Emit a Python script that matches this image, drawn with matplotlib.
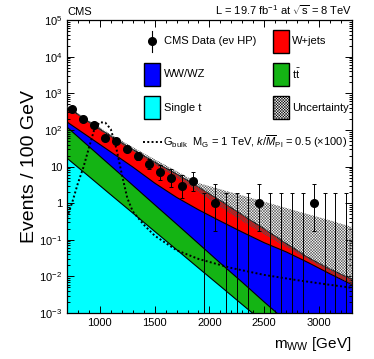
import numpy as np
import matplotlib
matplotlib.use("Agg")
import matplotlib.pyplot as plt
from matplotlib.patches import Rectangle
from matplotlib.lines import Line2D
from matplotlib.ticker import LogLocator, MultipleLocator, NullFormatter

plt.rcParams["font.family"] = ["Liberation Sans", "DejaVu Sans"]
plt.rcParams["mathtext.fontset"] = "custom"
plt.rcParams["mathtext.rm"] = "Liberation Sans"
plt.rcParams["mathtext.it"] = "Liberation Sans:italic"
plt.rcParams["mathtext.bf"] = "Liberation Sans:bold"
plt.rcParams["hatch.linewidth"] = 0.35

# background fit shapes (events / 100 GeV), read at knot masses
M_KNOTS = [700, 900, 1100, 1300, 1500, 1700, 1900, 2100, 2300, 2500, 2700, 2900, 3100, 3300]
SINGLE_T = [17.0, 5.4, 1.7, 0.54, 0.17, 0.054, 0.017, 0.0054, 0.0017, 0.00054,
            0.00017, 5.4e-5, 1.7e-5, 5.4e-6]
TTBAR = [103, 30, 8.8, 2.56, 0.74, 0.216, 0.062, 0.0176, 0.0052, 0.00146,
         0.00043, 1.24e-4, 3.5e-5, 1.0e-5]
WW_WZ = [46, 29.1, 14.6, 6.67, 2.64, 1.175, 0.582, 0.301, 0.155, 0.0812,
         0.0462, 0.0238, 0.0117, 0.0060]
W_JETS = [261, 101, 42.5, 19.7, 9.6, 4.87, 2.09, 0.851, 0.317, 0.116,
          0.0326, 0.0091, 0.0041, 0.0023]
# total background uncertainty band
UNC_LO = [398, 151, 60.3, 25.7, 11.0, 5.0, 2.0, 0.79, 0.32, 0.14,
          0.063, 0.028, 0.0126, 0.0060]
UNC_HI = [457, 182, 75.9, 33.9, 15.8, 7.59, 3.55, 2.40, 1.62, 1.10,
          0.74, 0.50, 0.34, 0.224]

# bulk graviton signal (x100)
M_SIG = [700, 750, 800, 850, 900, 950, 1000, 1050, 1100, 1150, 1200, 1250, 1300,
         1400, 1500, 1700, 1900, 2200, 2500, 2800, 3100, 3300]
SIG = [0.40, 1.1, 3.5, 9.5, 32, 105, 162, 158, 105, 32, 6.3, 1.4, 0.60,
       0.26, 0.13, 0.052, 0.030, 0.017, 0.011, 0.0079, 0.0059, 0.0049]

# observed data, 100 GeV bins
M_DATA = [750, 850, 950, 1050, 1150, 1250, 1350, 1450, 1550, 1650, 1750, 1850, 1950,
          2050, 2150, 2250, 2350, 2450, 2550, 2650, 2750, 2850, 2950, 3050, 3150, 3250]
N_DATA = [380, 205, 134, 62, 49, 30, 19, 12, 7, 5, 3, 4, 0,
          1, 0, 0, 0, 1, 0, 0, 0, 0, 1, 0, 0, 0]
ERR_LO = [19.0, 13.8, 11.1, 7.4, 6.5, 5.45, 4.32, 3.42, 2.58, 2.16, 1.63, 1.91, 0,
          0.83, 0, 0, 0, 0.83, 0, 0, 0, 0, 0.83, 0, 0, 0]
ERR_HI = [20.0, 14.8, 12.1, 8.4, 7.5, 6.55, 5.44, 4.56, 3.77, 3.38, 2.92, 3.16, 1.84,
          2.30, 1.84, 1.84, 1.84, 2.30, 1.84, 1.84, 1.84, 1.84, 2.30, 1.84, 1.84, 1.84]

COL_WJ = "#ff0000"
COL_WW = "#0000ff"
COL_TT = "#14b414"
COL_ST = "#00ffff"
HATCH = "x" * 12

XMIN, XMAX = 700, 3300
YMIN, YMAX = 1e-3, 1e5

fig = plt.figure(figsize=(3.74, 3.59), dpi=100)
ax = fig.add_axes([0.179, 0.128, 0.762, 0.816])
ax.set_yscale("log", nonpositive="clip")

m = np.array(M_KNOTS, dtype=float)
c1 = np.array(SINGLE_T)
c2 = c1 + np.array(TTBAR)
c3 = c2 + np.array(WW_WZ)
c4 = c3 + np.array(W_JETS)

ax.fill_between(m, YMIN, c4, color=COL_WJ, lw=0, zorder=1)
ax.fill_between(m, YMIN, c3, color=COL_WW, lw=0, zorder=1)
ax.fill_between(m, YMIN, c2, color=COL_TT, lw=0, zorder=1)
ax.fill_between(m, YMIN, c1, color=COL_ST, lw=0, zorder=1)
for c in (c1, c2, c3, c4):
    ax.plot(m, c, color="black", lw=0.8, zorder=2)

ax.fill_between(m, UNC_LO, UNC_HI, facecolor="none", edgecolor="#505050",
                hatch=HATCH, lw=0, zorder=3)

ax.plot(M_SIG, SIG, color="black", lw=1.4, ls=(0, (1.0, 1.2)), zorder=4)

ax.errorbar(M_DATA, N_DATA, yerr=[ERR_LO, ERR_HI], fmt="o", color="black",
            ms=5.5, elinewidth=0.7, capsize=1.2, capthick=0.7, zorder=5)

ax.set_xlim(XMIN, XMAX)
ax.set_ylim(YMIN, YMAX)

ax.set_xticks([1000, 1500, 2000, 2500, 3000])
ax.xaxis.set_minor_locator(MultipleLocator(100))
ax.set_yticks([1e-3, 1e-2, 1e-1, 1, 10, 1e2, 1e3, 1e4, 1e5])
ax.set_yticklabels([r"$10^{-3}$", r"$10^{-2}$", r"$10^{-1}$", "1", "10",
                    r"$10^{2}$", r"$10^{3}$", r"$10^{4}$", r"$10^{5}$"])
ax.yaxis.set_minor_locator(LogLocator(base=10, subs=np.arange(2, 10), numticks=100))
ax.yaxis.set_minor_formatter(NullFormatter())
ax.tick_params(which="both", direction="in", top=True, right=True, labelsize=8,
               width=0.7)
ax.tick_params(which="major", length=5)
ax.tick_params(which="minor", length=2.5)
for s in ax.spines.values():
    s.set_linewidth(0.9)

ax.set_ylabel("Events / 100 GeV", fontsize=14)
ax.yaxis.set_label_coords(-0.10, 0.5)
ax.set_xlabel(r"m$_{\mathrm{WW}}$ [GeV]", fontsize=11, ha="right")
ax.xaxis.set_label_coords(1.0, -0.075)

ax.text(0.0, 1.012, "CMS", transform=ax.transAxes, fontsize=8, ha="left", va="bottom")
ax.text(1.0, 1.012, r"L = 19.7 fb$^{-1}$ at $\sqrt{\mathrm{s}}$ = 8 TeV",
        transform=ax.transAxes, fontsize=8, ha="right", va="bottom")

# legend, drawn by hand in axes coordinates
box_w, box_h = 0.057, 0.078
rows = [0.927, 0.815, 0.701]
col_l, col_r = 0.270, 0.722
tx_l, tx_r = 0.340, 0.789
entries = [
    (col_r, rows[0], COL_WJ, None, "W+jets", tx_r),
    (col_l, rows[1], COL_WW, None, "WW/WZ", tx_l),
    (col_r, rows[1], COL_TT, None, r"t$\bar{\mathrm{t}}$", tx_r),
    (col_l, rows[2], COL_ST, None, "Single t", tx_l),
    (col_r, rows[2], "white", HATCH, "Uncertainty", tx_r),
]
for x0, yc, fc, hatch, label, tx in entries:
    ax.add_patch(Rectangle((x0, yc - box_h / 2), box_w, box_h, transform=ax.transAxes,
                           facecolor=fc, edgecolor="black", lw=1.0, hatch=hatch,
                           zorder=6, clip_on=False))
    ax.text(tx, yc, label, transform=ax.transAxes, fontsize=8, va="center", zorder=6)

ax.add_line(Line2D([0.297, 0.297], [rows[0] - 0.035, rows[0] + 0.035], color="black",
                   lw=0.8, transform=ax.transAxes, zorder=6))
ax.plot([0.297], [rows[0]], "o", color="black", ms=5.5, transform=ax.transAxes, zorder=6)
ax.text(tx_l, rows[0], "CMS Data (e\u03bd HP)", transform=ax.transAxes, fontsize=8,
        va="center", zorder=6)

ax.add_line(Line2D([0.267, 0.333], [0.585, 0.585], color="black", lw=1.4,
                   ls=(0, (1.0, 1.2)), transform=ax.transAxes, zorder=6))
ax.text(0.337, 0.585,
        r"G$_{\mathrm{bulk}}$  M$_{\mathrm{G}}$ = 1 TeV, $k/\overline{M}_{\mathrm{Pl}}$ = 0.5 ($\times$100)",
        transform=ax.transAxes, fontsize=8, va="center", zorder=6)

fig.savefig("out.png", dpi=100)
